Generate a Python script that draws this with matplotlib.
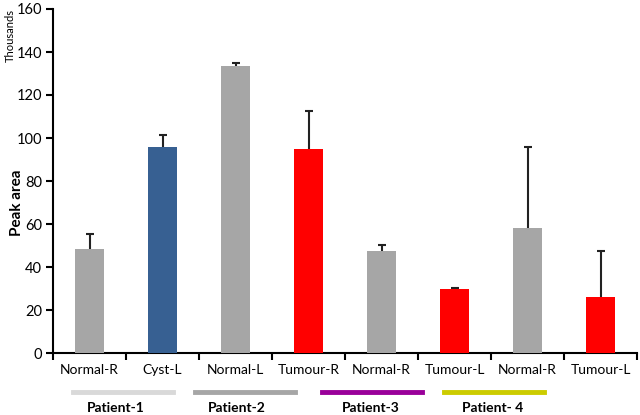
import matplotlib
matplotlib.use("Agg")
import matplotlib.pyplot as plt
from matplotlib.lines import Line2D

categories = ["Normal-R", "Cyst-L", "Normal-L", "Tumour-R", "Normal-R", "Tumour-L", "Normal-R", "Tumour-L"]
values = [48.5, 95.8, 133.5, 95.0, 47.5, 29.8, 58.0, 26.0]
errors = [7.0, 5.6, 1.3, 17.5, 2.6, 0.6, 37.7, 21.3]
bar_colors = ["#a6a6a6", "#376092", "#a6a6a6", "#ff0000", "#a6a6a6", "#ff0000", "#a6a6a6", "#ff0000"]
patients = ["Patient-1", "Patient-2", "Patient-3", "Patient- 4"]
patient_colors = ["#d9d9d9", "#a6a6a6", "#990099", "#cccc00"]

plt.rcParams['font.family'] = ['Lato', 'DejaVu Sans']

fig = plt.figure(figsize=(6.4, 4.15), dpi=100)
W, H = 640, 415
ax = fig.add_axes([53 / W, 1 - 353 / H, (637 - 53) / W, (353 - 9) / H])

x = list(range(len(categories)))
ax.bar(x, values, width=0.4, color=bar_colors, zorder=3)
eb = ax.errorbar(x, values, yerr=[[0] * len(errors), errors], fmt='none', ecolor='#222222',
                 elinewidth=1.5, capsize=3, capthick=1.5, zorder=2)
eb[1][0].set_visible(False)

ax.set_xlim(-0.5, len(categories) - 0.5)
ax.set_ylim(0, 160)
ax.set_yticks(range(0, 161, 20))
ax.tick_params(axis='y', labelsize=10.5, length=5, width=1.5, direction='out', pad=3)
ax.set_xticks([i - 0.5 for i in range(len(categories) + 1)])
ax.set_xticklabels([])
ax.tick_params(axis='x', length=5, width=1.5, direction='out')
for i, c in enumerate(categories):
    ax.text(i, -0.05, c, transform=ax.get_xaxis_transform(), ha='center', va='center', fontsize=10)

for s in ['top', 'right']:
    ax.spines[s].set_visible(False)
for s in ['left', 'bottom']:
    ax.spines[s].set_linewidth(1.5)

fig.text(17 / W, 1 - 203 / H, "Peak area", rotation=90, fontsize=11, fontweight='bold',
         ha='center', va='center')
fig.text(10 / W, 1 - 36 / H, "Thousands", rotation=90, fontsize=8, ha='center', va='center')

line_spans = [(73, 173), (195, 295), (322, 422), (444, 544)]
label_x = [116, 237, 371, 493]
for (x0, x1), col, lx, name in zip(line_spans, patient_colors, label_x, patients):
    fig.add_artist(Line2D([x0 / W, x1 / W], [1 - 392 / H, 1 - 392 / H], color=col, linewidth=3.5,
                          transform=fig.transFigure))
    fig.text(lx / W, 1 - 408 / H, name, ha='center', va='center', fontsize=10, fontweight='bold')

fig.savefig("out.png", dpi=100)
